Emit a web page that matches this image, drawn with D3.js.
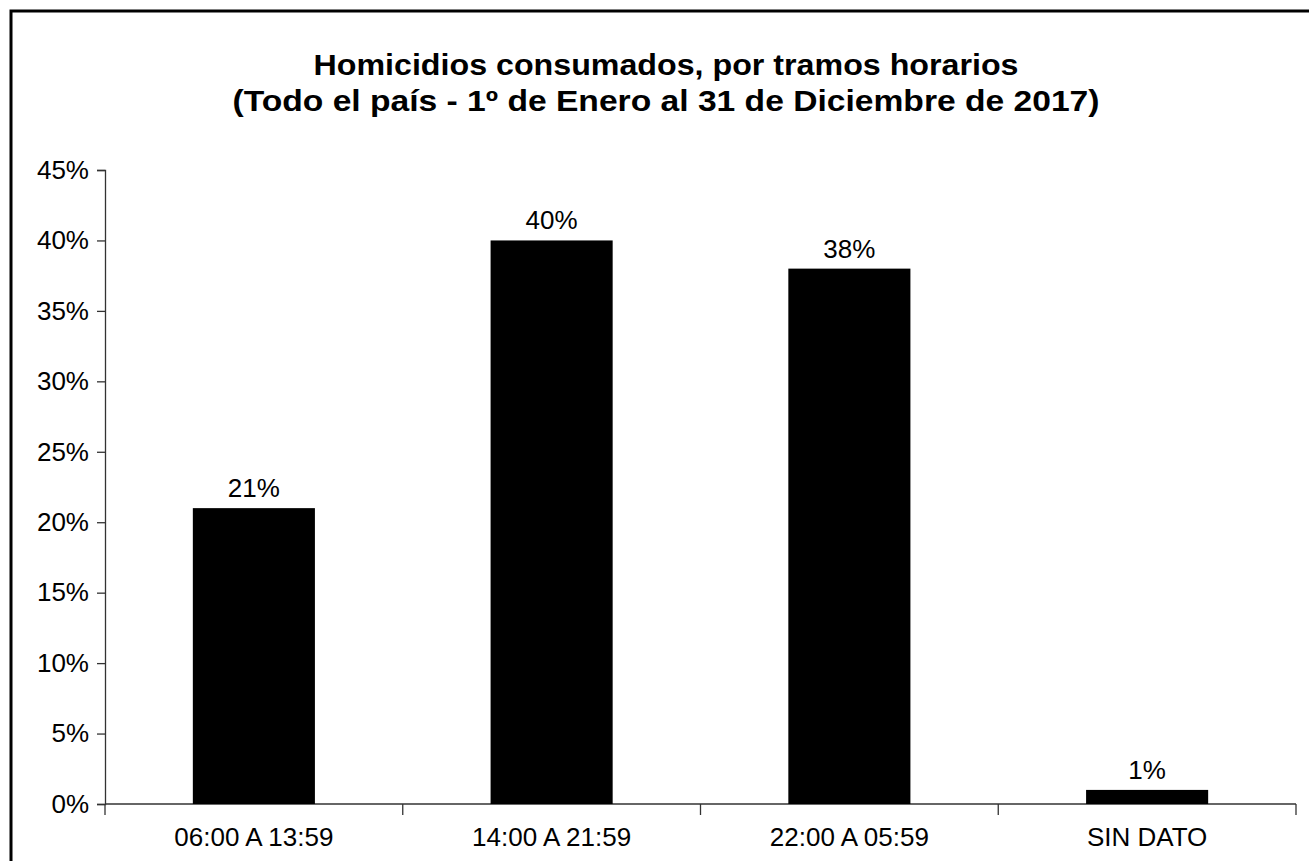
<!DOCTYPE html>
<html lang="es">
<head>
<meta charset="UTF-8">
<title>Homicidios consumados, por tramos horarios</title>
<script src="https://d3js.org/d3.v7.min.js"></script>
<style>
    body { margin: 0; background: #fff; }
    text { font-family: "Liberation Sans", Arial, sans-serif; fill: #000; }
</style>
</head>
<body>
<svg width="1309" height="861"></svg>
<script>
    const width = 1309;
    const height = 861;

    // datos
    const categories = ["06:00 A 13:59", "14:00 A 21:59", "22:00 A 05:59", "SIN DATO"];
    const values = [21, 40, 38, 1];
    const yTicks = [0, 5, 10, 15, 20, 25, 30, 35, 40, 45];
    const titleLines = [
        "Homicidios consumados, por tramos horarios",
        "(Todo el país - 1º de Enero al 31 de Diciembre de 2017)"
    ];
    const titleWidths = [705, 867];

    const svg = d3.select("svg");

    // marco exterior
    svg.append("rect")
        .attr("x", 11).attr("y", 11)
        .attr("width", width + 20).attr("height", height + 20)
        .attr("fill", "none").attr("stroke", "#000").attr("stroke-width", 3);

    const plotLeft = 105, plotRight = 1296, plotTop = 170, plotBottom = 804;

    const x = d3.scaleBand().domain(categories).range([plotLeft, plotRight]).paddingInner(0.59).paddingOuter(0.295);
    const xb = d3.scaleBand().domain(categories).range([plotLeft, plotRight]);
    const y = d3.scaleLinear().domain([0, 45]).range([plotBottom, plotTop]);

    // titulo
    svg.append("g").selectAll("text")
        .data(titleLines)
        .enter().append("text")
        .attr("x", 666)
        .attr("y", (d, i) => 75 + i * 36)
        .attr("text-anchor", "middle")
        .attr("font-size", 29)
        .attr("font-weight", "bold")
        .attr("textLength", (d, i) => titleWidths[i])
        .attr("lengthAdjust", "spacingAndGlyphs")
        .text(d => d);

    // eje y
    const yAxis = d3.axisLeft(y).tickValues(yTicks).tickFormat(d => d + "%").tickSize(8).tickPadding(8);
    const gy = svg.append("g").attr("transform", `translate(${plotLeft},0)`).call(yAxis);
    gy.select(".domain").attr("stroke", "#333").attr("stroke-width", 1.3);
    gy.selectAll(".tick line").attr("stroke", "#333").attr("stroke-width", 1.3);
    gy.selectAll(".tick text").attr("font-size", 26).attr("font-family", "Liberation Sans, Arial, sans-serif").attr("fill", "#000");

    // eje x
    const gx = svg.append("g").attr("transform", `translate(0,${plotBottom})`);
    gx.append("line").attr("x1", plotLeft).attr("x2", plotRight).attr("stroke", "#333").attr("stroke-width", 1.3);
    const bounds = categories.map(c => xb(c)).concat([plotRight]);
    gx.selectAll(".sep").data(bounds).enter().append("line")
        .attr("x1", d => d).attr("x2", d => d)
        .attr("y1", 0).attr("y2", 11)
        .attr("stroke", "#333").attr("stroke-width", 1.3);
    gx.selectAll(".cat").data(categories).enter().append("text")
        .attr("x", d => xb(d) + xb.bandwidth() / 2)
        .attr("y", 42)
        .attr("text-anchor", "middle")
        .attr("font-size", 26)
        .text(d => d);

    // barras
    svg.append("g").selectAll("rect")
        .data(values)
        .enter().append("rect")
        .attr("x", (d, i) => x(categories[i]))
        .attr("y", d => y(d))
        .attr("width", x.bandwidth())
        .attr("height", d => plotBottom - y(d))
        .attr("fill", "#000");

    // etiquetas de valor
    svg.append("g").selectAll("text")
        .data(values)
        .enter().append("text")
        .attr("x", (d, i) => x(categories[i]) + x.bandwidth() / 2)
        .attr("y", d => y(d) - 11)
        .attr("text-anchor", "middle")
        .attr("font-size", 26)
        .text(d => d + "%");
</script>
</body>
</html>
